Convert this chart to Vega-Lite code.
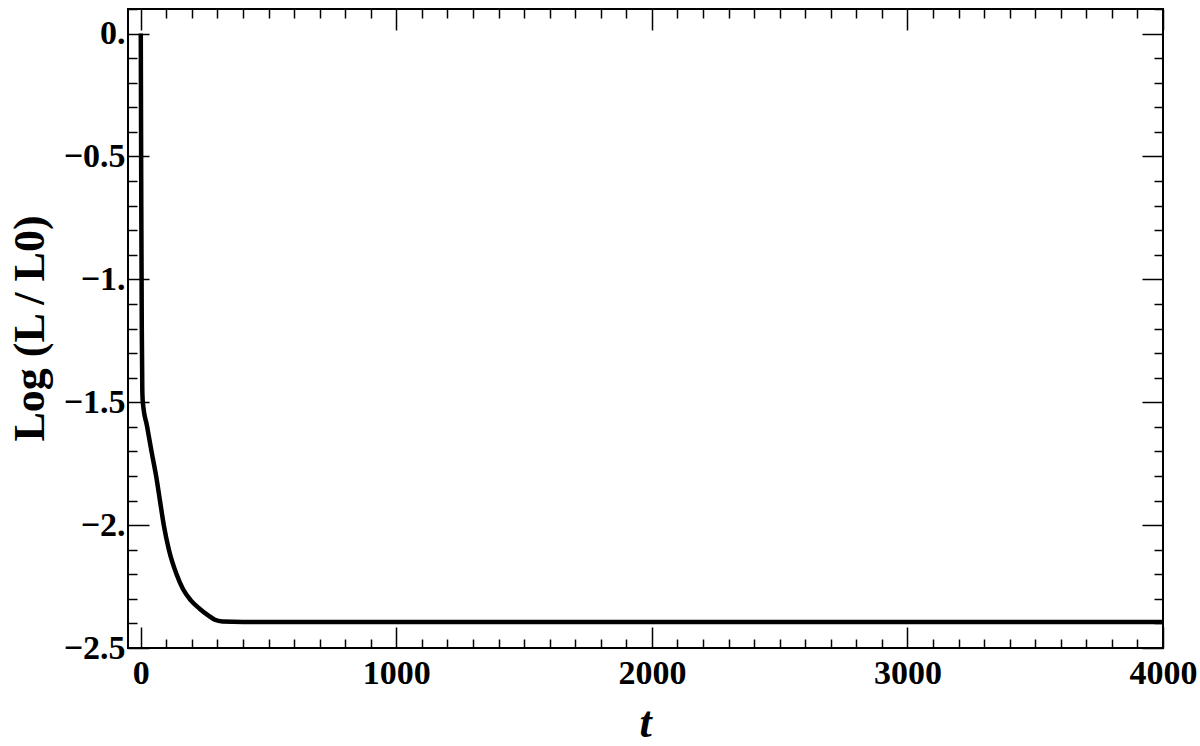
{
  "$schema": "https://vega.github.io/schema/vega-lite/v6.json",
  "width": 1035,
  "height": 639,
  "autosize": "none",
  "padding": {"left": 128, "top": 9, "right": 37, "bottom": 98},
  "background": "white",
  "config": {
    "view": {"stroke": "black", "strokeWidth": 2},
    "axis": {
      "domain": false,
      "grid": false,
      "tickColor": "black",
      "tickWidth": 1.5,
      "labelFont": "Liberation Serif",
      "labelFontWeight": "bold",
      "labelFontSize": 34,
      "labelColor": "black",
      "labelFlush": false,
      "labelOverlap": false,
      "titleFont": "Liberation Serif",
      "titleFontWeight": "bold",
      "titleFontSize": 44,
      "titleColor": "black"
    }
  },
  "data": {
    "values": [
      {"t": 0, "v": 0},
      {"t": 2, "v": -0.7},
      {"t": 4, "v": -1.2},
      {"t": 6, "v": -1.45},
      {"t": 8, "v": -1.5},
      {"t": 25, "v": -1.6},
      {"t": 42, "v": -1.7},
      {"t": 60, "v": -1.8},
      {"t": 75, "v": -1.9},
      {"t": 90, "v": -2.0},
      {"t": 110, "v": -2.1},
      {"t": 140, "v": -2.2},
      {"t": 165, "v": -2.26},
      {"t": 195, "v": -2.305},
      {"t": 230, "v": -2.34},
      {"t": 265, "v": -2.368},
      {"t": 290, "v": -2.385},
      {"t": 320, "v": -2.392},
      {"t": 400, "v": -2.394},
      {"t": 1000, "v": -2.394},
      {"t": 2000, "v": -2.394},
      {"t": 3000, "v": -2.394},
      {"t": 4000, "v": -2.394}
    ]
  },
  "resolve": {"axis": {"x": "independent", "y": "independent"}},
  "layer": [
    {
      "mark": {"type": "line", "color": "black", "strokeWidth": 4.5, "clip": true, "interpolate": "monotone"},
      "encoding": {
        "x": {
          "field": "t", "type": "quantitative",
          "scale": {"domain": [-50, 4000], "nice": false, "zero": false},
          "axis": {
            "orient": "bottom",
            "values": [0, 1000, 2000, 3000, 4000],
            "format": "d",
            "tickSize": -21,
            "labelPadding": 56,
            "labelBaseline": "alphabetic",
            "title": "t",
            "titleFontStyle": "italic",
            "titleBaseline": "alphabetic",
            "titleX": 517,
            "titleY": 88
          }
        },
        "y": {
          "field": "v", "type": "quantitative",
          "scale": {"domain": [-2.5, 0.1], "nice": false, "zero": false},
          "axis": {
            "orient": "left",
            "values": [0, -0.5, -1, -1.5, -2, -2.5],
            "tickSize": -21,
            "labelPadding": 24,
            "labelBaseline": "middle",
            "labelExpr": "datum.value % 1 == 0 ? format(datum.value, 'd') + '.' : format(datum.value, '.1f')",
            "title": "Log (L / L0)",
            "titleAngle": -90,
            "titleBaseline": "alphabetic",
            "titleAlign": "center",
            "titleX": -85,
            "titleY": 319
          }
        }
      }
    },
    {
      "mark": {"type": "line", "opacity": 0},
      "encoding": {
        "x": {
          "field": "t", "type": "quantitative",
          "axis": {
            "orient": "bottom",
            "values": [100,200,300,400,500,600,700,800,900,1100,1200,1300,1400,1500,1600,1700,1800,1900,2100,2200,2300,2400,2500,2600,2700,2800,2900,3100,3200,3300,3400,3500,3600,3700,3800,3900],
            "tickSize": -9,
            "labels": false,
            "title": null
          }
        },
        "y": {
          "field": "v", "type": "quantitative",
          "axis": {
            "orient": "left",
            "values": [0.1,-0.1,-0.2,-0.3,-0.4,-0.6,-0.7,-0.8,-0.9,-1.1,-1.2,-1.3,-1.4,-1.6,-1.7,-1.8,-1.9,-2.1,-2.2,-2.3,-2.4],
            "tickSize": -9,
            "labels": false,
            "title": null
          }
        }
      }
    },
    {
      "mark": {"type": "line", "opacity": 0},
      "encoding": {
        "x": {
          "field": "t", "type": "quantitative",
          "axis": {
            "orient": "top",
            "values": [0, 1000, 2000, 3000, 4000],
            "tickSize": -21,
            "labels": false,
            "title": null
          }
        },
        "y": {
          "field": "v", "type": "quantitative",
          "axis": {
            "orient": "right",
            "values": [0, -0.5, -1, -1.5, -2, -2.5],
            "tickSize": -21,
            "labels": false,
            "title": null
          }
        }
      }
    },
    {
      "mark": {"type": "line", "opacity": 0},
      "encoding": {
        "x": {
          "field": "t", "type": "quantitative",
          "axis": {
            "orient": "top",
            "values": [100,200,300,400,500,600,700,800,900,1100,1200,1300,1400,1500,1600,1700,1800,1900,2100,2200,2300,2400,2500,2600,2700,2800,2900,3100,3200,3300,3400,3500,3600,3700,3800,3900],
            "tickSize": -9,
            "labels": false,
            "title": null
          }
        },
        "y": {
          "field": "v", "type": "quantitative",
          "axis": {
            "orient": "right",
            "values": [0.1,-0.1,-0.2,-0.3,-0.4,-0.6,-0.7,-0.8,-0.9,-1.1,-1.2,-1.3,-1.4,-1.6,-1.7,-1.8,-1.9,-2.1,-2.2,-2.3,-2.4],
            "tickSize": -9,
            "labels": false,
            "title": null
          }
        }
      }
    }
  ]
}
